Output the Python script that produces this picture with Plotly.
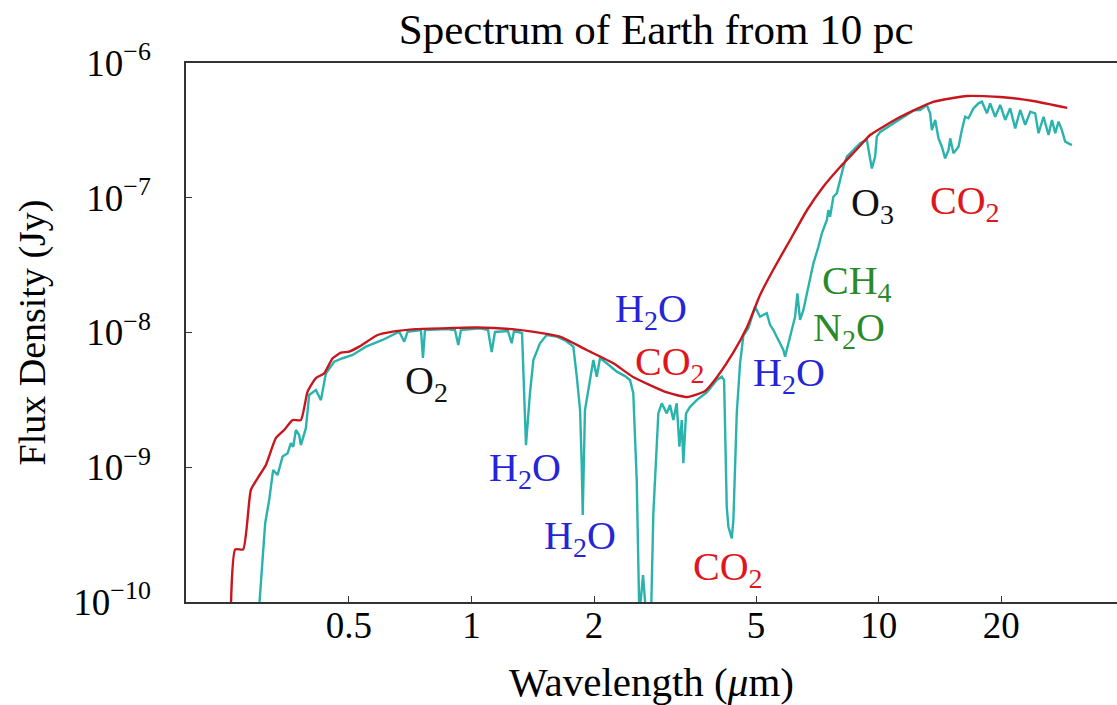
import numpy as np
import plotly.graph_objects as go

# ---------------- data ----------------
# smooth model spectrum (red)
model_wavelength = [0.2566, 0.2629, 0.2750, 0.2872, 0.3000, 0.3127, 0.3309, 0.3467,
                    0.3636, 0.3811, 0.3958, 0.4148, 0.4348, 0.4560, 0.4779, 0.5009,
                    0.5300, 0.5882, 0.6404, 0.7305, 0.90, 1.03, 1.291, 1.501, 1.650,
                    1.919, 2.231, 2.494, 3.022, 3.384, 3.748, 4.011, 4.391, 4.753,
                    5.114, 5.506, 6.061, 6.673, 7.305, 8.043, 8.855, 9.531, 11.29,
                    13.61, 16.50, 19.89, 23.97, 29.05]
model_flux = [9.5e-11, 2.46e-10, 2.46e-10, 6.78e-10, 8.51e-10, 1.04e-9, 1.65e-9, 1.89e-9,
              2.24e-9, 2.24e-9, 3.64e-9, 4.59e-9, 4.98e-9, 6.44e-9, 7.08e-9, 7.21e-9,
              7.85e-9, 9.58e-9, 1.014e-8, 1.06e-8, 1.08e-8, 1.09e-8, 1.05e-8, 9.86e-9, 9.31e-9,
              7.41e-9, 5.91e-9, 4.68e-9, 3.59e-9, 3.32e-9, 3.68e-9, 4.68e-9, 7.05e-9, 1.099e-8,
              1.90e-8, 2.91e-8, 4.86e-8, 8.11e-8, 1.202e-7, 1.69e-7, 2.30e-7, 2.92e-7, 3.97e-7,
              5.14e-7, 5.69e-7, 5.60e-7, 5.22e-7, 4.64e-7]

# detailed spectrum with absorption bands (teal)
spectrum_wavelength = [0.300, 0.3114, 0.3185, 0.3258, 0.3340, 0.3436, 0.3535, 0.3601, 0.3649,
                       0.3705, 0.3775, 0.3811, 0.3920, 0.3994, 0.4148, 0.4268, 0.4390, 0.4601,
                       0.4826, 0.5106, 0.5506, 0.6049, 0.6646, 0.6837, 0.6970, 0.7515, 0.7601,
                       0.7687, 0.8692, 0.9110, 0.9281, 0.9423, 1.049, 1.098, 1.121, 1.142,
                       1.229, 1.255, 1.272, 1.331, 1.361, 1.392, 1.419, 1.473, 1.530, 1.620,
                       1.707, 1.779, 1.814, 1.848, 1.866, 1.876, 1.900, 1.936, 1.992, 2.031,
                       2.069, 2.149, 2.275, 2.383, 2.451, 2.497, 2.546, 2.584, 2.639, 2.684,
                       2.761, 2.797, 2.851, 2.877, 2.933, 3.017, 3.074, 3.132, 3.192, 3.241,
                       3.285, 3.314, 3.365, 3.442, 3.575, 3.784, 4.004, 4.119, 4.173, 4.197,
                       4.236, 4.276, 4.358, 4.398, 4.483, 4.568, 4.654, 4.787, 4.972, 5.114,
                       5.312, 5.412, 5.514, 5.672, 5.835, 5.891, 6.061, 6.234, 6.316, 6.413,
                       6.534, 6.722, 6.915, 7.114, 7.254, 7.463, 7.527, 7.599, 7.742, 7.893,
                       8.043, 8.195, 8.355, 8.673, 9.007, 9.354, 9.438, 9.623, 9.804, 9.899,
                       10.09, 10.98, 12.18, 12.65, 13.13, 13.38, 13.51, 13.77, 14.03, 14.30,
                       14.57, 14.85, 14.99, 15.27, 15.71, 16.01, 16.31, 16.62, 17.10, 17.59,
                       17.93, 18.45, 18.79, 19.33, 19.89, 20.46, 21.04, 21.65, 22.27, 22.91,
                       23.57, 24.24, 24.70, 25.41, 26.14, 26.65, 27.15, 27.66, 28.19, 28.72,
                       29.83]
spectrum_flux = [8e-11, 3.84e-10, 5.71e-10, 9.55e-10, 8.75e-10, 1.20e-9, 1.27e-9, 1.51e-9, 1.42e-9,
                 1.89e-9, 1.73e-9, 1.46e-9, 1.95e-9, 3.44e-9, 3.74e-9, 3.15e-9, 4.98e-9, 6.07e-9,
                 6.44e-9, 6.81e-9, 7.85e-9, 8.80e-9, 1.014e-8, 8.55e-9, 1.014e-8, 1.044e-8, 6.47e-9,
                 1.044e-8, 1.06e-8, 1.044e-8, 8.07e-9, 1.044e-8, 1.074e-8, 1.044e-8, 7.16e-9, 1.009e-8,
                 1.026e-8, 8.32e-9, 1.026e-8, 9.91e-9, 1.46e-9, 3.54e-9, 6.25e-9, 8.32e-9, 9.58e-9, 9.31e-9,
                 8.65e-9, 7.85e-9, 4.70e-9, 2.66e-9, 1.01e-9, 4.43e-10, 2.66e-9, 3.74e-9, 6.25e-9, 4.70e-9,
                 6.47e-9, 5.91e-9, 5.12e-9, 4.75e-9, 4.44e-9, 3.54e-9, 8.04e-10, 8e-11, 1.585e-10, 8e-11,
                 8e-11, 4.55e-10, 1.42e-9, 2.51e-9, 2.98e-9, 2.51e-9, 2.90e-9, 2.24e-9, 2.98e-9, 1.42e-9,
                 2.24e-9, 1.07e-9, 2.51e-9, 2.81e-9, 3.15e-9, 3.60e-9, 4.44e-9, 4.70e-9, 4.44e-9, 1.42e-9,
                 5.09e-10, 3.62e-10, 2.97e-10, 4.06e-10, 2.51e-9, 5.91e-9, 9.5e-9, 1.08e-8, 1.55e-8, 1.31e-8,
                 1.39e-8, 1.14e-8, 1.044e-8, 8.80e-9, 7.41e-9, 6.61e-9, 9.31e-9, 1.31e-8, 1.95e-8, 1.24e-8,
                 1.47e-8, 2.19e-8, 3.26e-8, 4.33e-8, 5.45e-8, 6.84e-8, 8.11e-8, 7.23e-8, 1.018e-7, 1.079e-7,
                 1.355e-7, 1.70e-7, 2.02e-7, 2.26e-7, 2.54e-7, 2.69e-7, 2.26e-7, 1.65e-7, 2.02e-7, 2.84e-7,
                 3.08e-7, 3.65e-7, 4.45e-7, 4.48e-7, 4.88e-7, 4.23e-7, 3.18e-7, 3.78e-7, 2.76e-7, 2.39e-7,
                 1.96e-7, 2.26e-7, 2.76e-7, 2.14e-7, 2.39e-7, 3.18e-7, 3.99e-7, 3.89e-7, 4.61e-7, 5.02e-7,
                 5.16e-7, 4.23e-7, 5.02e-7, 3.99e-7, 4.88e-7, 3.78e-7, 4.61e-7, 3.27e-7, 4.48e-7, 3.47e-7,
                 4.35e-7, 4.23e-7, 3.01e-7, 3.99e-7, 2.92e-7, 3.78e-7, 3.01e-7, 3.67e-7, 3.18e-7, 2.61e-7,
                 2.46e-7]

# molecule labels
label_text = ["O<sub>2</sub>", "H<sub>2</sub>O", "H<sub>2</sub>O", "H<sub>2</sub>O", "CO<sub>2</sub>",
              "CO<sub>2</sub>", "H<sub>2</sub>O", "CH<sub>4</sub>", "N<sub>2</sub>O", "O<sub>3</sub>",
              "CO<sub>2</sub>"]
label_wavelength = [0.777, 1.353, 1.848, 2.761, 3.074, 4.268, 6.026, 8.855, 8.46, 9.64, 16.3]
label_flux = [4.2e-9, 0.95e-9, 3.0e-10, 1.45e-8, 5.8e-9, 1.75e-10, 4.8e-9, 2.35e-8, 1.04e-8, 8.8e-8, 9.2e-8]
label_color = ["#111111", "#2424d8", "#2424d8", "#2424d8", "#e0161c", "#e0161c", "#2424d8",
               "#2a8a2a", "#2a8a2a", "#111111", "#e0161c"]

x_tick_values = [0.5, 1, 2, 5, 10, 20]
x_tick_labels = ["0.5", "1", "2", "5", "10", "20"]
y_tick_values = [1e-10, 1e-9, 1e-8, 1e-7, 1e-6]
y_tick_labels = ["10<sup>−10</sup>", "10<sup>−9</sup>", "10<sup>−8</sup>", "10<sup>−7</sup>", "10<sup>−6</sup>"]

# ---------------- figure ----------------
FONT = "Liberation Serif"
fig = go.Figure()
fig.add_trace(go.Scatter(x=spectrum_wavelength, y=spectrum_flux, mode="lines",
                         line=dict(color="#2ab3ad", width=2.4), showlegend=False,
                         hoverinfo="skip"))
fig.add_trace(go.Scatter(x=model_wavelength, y=model_flux, mode="lines",
                         line=dict(color="#c8161d", width=2.4, shape="spline", smoothing=0.5),
                         showlegend=False, hoverinfo="skip"))

for t, lx, ly, c in zip(label_text, label_wavelength, label_flux, label_color):
    fig.add_annotation(x=np.log10(lx), y=np.log10(ly), xref="x", yref="y", text=t,
                       showarrow=False, xanchor="center", yanchor="middle",
                       font=dict(family=FONT, size=40, color=c))

fig.update_layout(
    width=1117, height=705,
    margin=dict(l=186, r=0, t=63, b=103),
    paper_bgcolor="white", plot_bgcolor="white",
    font=dict(family=FONT, color="black"),
    title=dict(text="Spectrum of Earth from 10 pc", x=0.505, xref="paper", xanchor="center",
               y=1 - 29 / 705, yref="container", yanchor="middle",
               font=dict(family=FONT, size=43, color="black")),
    xaxis=dict(type="log", range=[np.log10(0.199), np.log10(38.5)],
               tickvals=x_tick_values, ticktext=x_tick_labels,
               ticks="inside", ticklen=6, tickwidth=1.3, tickcolor="#333",
               showline=True, linecolor="#333", linewidth=1.5, mirror=True,
               showgrid=False, zeroline=False, ticklabelstandoff=-10,
               tickfont=dict(family=FONT, size=37, color="black"),
               title=dict(text="Wavelength (<i>μ</i>m)", standoff=24,
                          font=dict(family=FONT, size=41, color="black"))),
    yaxis=dict(type="log", range=[-10, -6],
               tickvals=y_tick_values, ticktext=y_tick_labels,
               ticks="inside", ticklen=6, tickwidth=1.3, tickcolor="#333",
               showline=True, linecolor="#333", linewidth=1.5,
               showgrid=False, zeroline=False, ticklabelstandoff=26,
               tickfont=dict(family=FONT, size=37, color="black"),
               title=dict(text="Flux Density (Jy)", standoff=16,
                          font=dict(family=FONT, size=38, color="black"))),
)

fig.write_html("out.html")
